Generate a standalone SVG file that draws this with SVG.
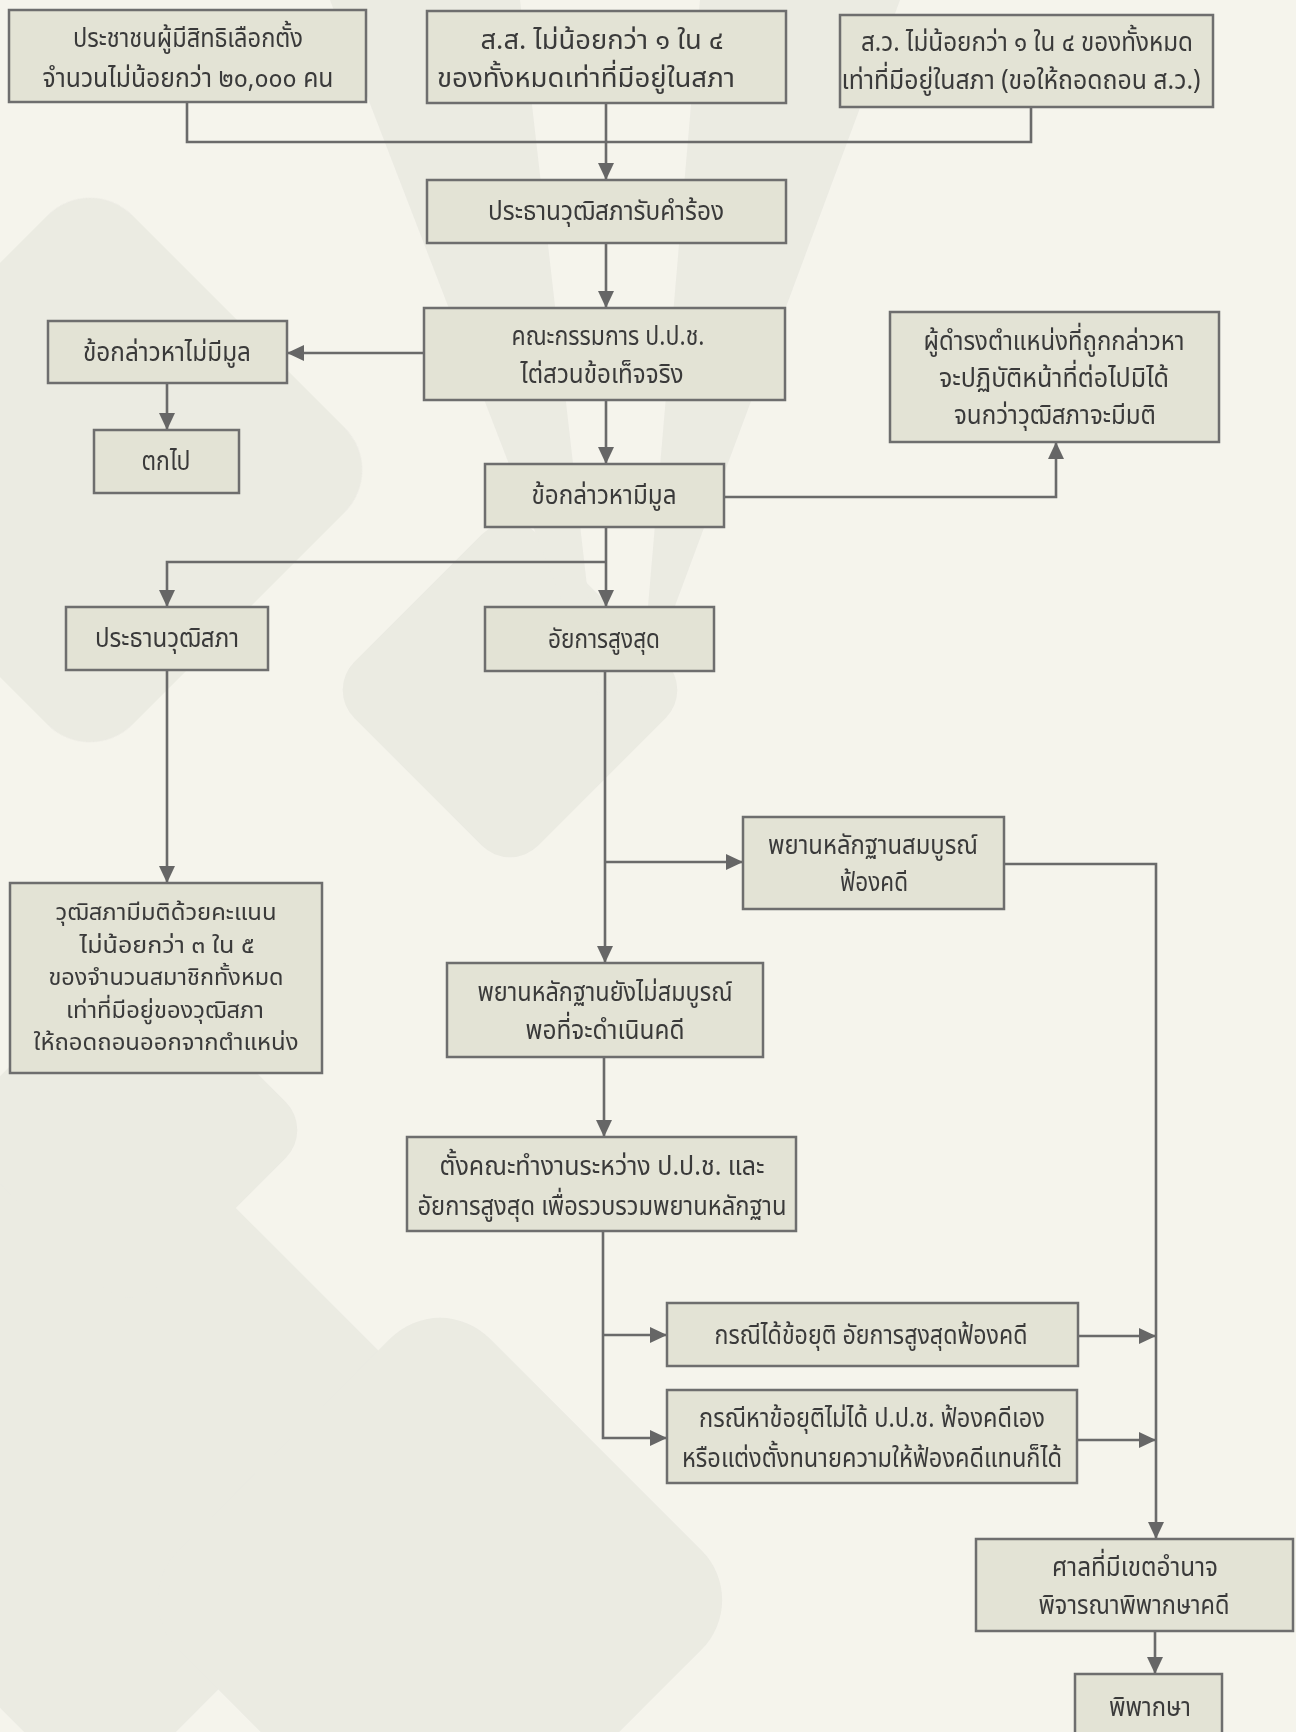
<svg xmlns="http://www.w3.org/2000/svg" width="1296" height="1732" viewBox="0 0 1296 1732">
<defs>
<style>
.bg{fill:#f5f4ec}
.deco{fill:#d9d9d2}
.box{fill:#e3e3d5;stroke:#6e6e6e;stroke-width:2.5}
.t{font-family:"Noto Sans Thai","Noto Sans","DejaVu Sans",sans-serif;font-size:27px;fill:#3a3a3a;text-anchor:middle;dominant-baseline:central}
.s{font-size:23px}
.c{fill:none;stroke:#6a6a6a;stroke-width:2.6}
</style>
<marker id="ah" markerUnits="userSpaceOnUse" markerWidth="18" markerHeight="18" refX="17" refY="8" orient="auto" viewBox="0 0 18 16">
<path d="M0,0 L17,8 L0,16 z" fill="#666"/>
</marker>
</defs>
<rect class="bg" x="0" y="0" width="1296" height="1732"/>
<g id="background" opacity="0.35">
<rect class="deco" x="-120" y="260" width="420" height="420" rx="60" transform="rotate(45 90 470)"/>
<rect class="deco" x="380" y="560" width="260" height="260" rx="40" transform="rotate(45 510 690)"/>
<rect class="deco" x="-160" y="1180" width="520" height="520" rx="70" transform="rotate(45 100 1440)"/>
<rect class="deco" x="220" y="1380" width="440" height="440" rx="70" transform="rotate(45 440 1600)"/>
<rect class="deco" x="0" y="1000" width="260" height="260" rx="40" transform="rotate(45 130 1130)"/>
<path class="deco" d="M330,0 L520,0 L600,700 Z"/>
<path class="deco" d="M700,0 L900,0 L640,700 Z"/>
</g>
<g id="connectors">
<polyline class="c" points="187,102 187,142 1031,142 1031,107"/>
<line class="c" x1="606" y1="103" x2="606" y2="180" marker-end="url(#ah)"/>
<line class="c" x1="606" y1="243" x2="606" y2="308" marker-end="url(#ah)"/>
<line class="c" x1="424" y1="353" x2="287" y2="353" marker-end="url(#ah)"/>
<line class="c" x1="167" y1="383" x2="167" y2="430" marker-end="url(#ah)"/>
<line class="c" x1="606" y1="400" x2="606" y2="464" marker-end="url(#ah)"/>
<polyline class="c" points="724,497 1056,497 1056,442" marker-end="url(#ah)"/>
<line class="c" x1="606" y1="527" x2="606" y2="607" marker-end="url(#ah)"/>
<polyline class="c" points="606,562 167,562 167,607" marker-end="url(#ah)"/>
<line class="c" x1="167" y1="670" x2="167" y2="883" marker-end="url(#ah)"/>
<line class="c" x1="605" y1="671" x2="605" y2="963" marker-end="url(#ah)"/>
<line class="c" x1="605" y1="862" x2="743" y2="862" marker-end="url(#ah)"/>
<polyline class="c" points="1004,864 1156,864 1156,1539" marker-end="url(#ah)"/>
<line class="c" x1="604" y1="1057" x2="604" y2="1137" marker-end="url(#ah)"/>
<polyline class="c" points="603,1231 603,1438 667,1438" marker-end="url(#ah)"/>
<line class="c" x1="603" y1="1335" x2="667" y2="1335" marker-end="url(#ah)"/>
<line class="c" x1="1078" y1="1336" x2="1156" y2="1336" marker-end="url(#ah)"/>
<line class="c" x1="1077" y1="1440" x2="1156" y2="1440" marker-end="url(#ah)"/>
<line class="c" x1="1155" y1="1631" x2="1155" y2="1674" marker-end="url(#ah)"/>
</g>
<g id="n1"><rect class="box" x="9" y="10" width="357" height="92"/>
<text class="t" x="188" y="38" textLength="230" lengthAdjust="spacingAndGlyphs">ประชาชนผู้มีสิทธิเลือกตั้ง</text>
<text class="t" x="188" y="78" textLength="291" lengthAdjust="spacingAndGlyphs">จำนวนไม่น้อยกว่า ๒๐,๐๐๐ คน</text></g>
<g id="n2"><rect class="box" x="427" y="11" width="359" height="92"/>
<text class="t" x="602" y="40" textLength="243" lengthAdjust="spacingAndGlyphs">ส.ส. ไม่น้อยกว่า ๑ ใน ๔</text>
<text class="t" x="586" y="78" textLength="298" lengthAdjust="spacingAndGlyphs">ของทั้งหมดเท่าที่มีอยู่ในสภา</text></g>
<g id="n3"><rect class="box" x="840" y="15" width="373" height="92"/>
<text class="t" x="1027" y="42" textLength="332" lengthAdjust="spacingAndGlyphs">ส.ว. ไม่น้อยกว่า ๑ ใน ๔ ของทั้งหมด</text>
<text class="t" x="1021" y="80" textLength="359" lengthAdjust="spacingAndGlyphs">เท่าที่มีอยู่ในสภา (ขอให้ถอดถอน ส.ว.)</text></g>
<g id="n4"><rect class="box" x="427" y="180" width="359" height="63"/>
<text class="t" x="606" y="211" textLength="236" lengthAdjust="spacingAndGlyphs">ประธานวุฒิสภารับคำร้อง</text></g>
<g id="n5"><rect class="box" x="424" y="308" width="361" height="92"/>
<text class="t" x="608" y="336" textLength="193" lengthAdjust="spacingAndGlyphs">คณะกรรมการ ป.ป.ช.</text>
<text class="t" x="602" y="374" textLength="163" lengthAdjust="spacingAndGlyphs">ไต่สวนข้อเท็จจริง</text></g>
<g id="n6"><rect class="box" x="48" y="321" width="239" height="62"/>
<text class="t" x="167" y="352" textLength="168" lengthAdjust="spacingAndGlyphs">ข้อกล่าวหาไม่มีมูล</text></g>
<g id="n7"><rect class="box" x="94" y="430" width="145" height="63"/>
<text class="t" x="166" y="461" textLength="49" lengthAdjust="spacingAndGlyphs">ตกไป</text></g>
<g id="n8"><rect class="box" x="890" y="312" width="329" height="130"/>
<text class="t" x="1054" y="341" textLength="261" lengthAdjust="spacingAndGlyphs">ผู้ดำรงตำแหน่งที่ถูกกล่าวหา</text>
<text class="t" x="1054" y="378" textLength="230" lengthAdjust="spacingAndGlyphs">จะปฏิบัติหน้าที่ต่อไปมิได้</text>
<text class="t" x="1055" y="415" textLength="202" lengthAdjust="spacingAndGlyphs">จนกว่าวุฒิสภาจะมีมติ</text></g>
<g id="n9"><rect class="box" x="485" y="464" width="239" height="63"/>
<text class="t" x="604" y="495" textLength="145" lengthAdjust="spacingAndGlyphs">ข้อกล่าวหามีมูล</text></g>
<g id="n10"><rect class="box" x="66" y="607" width="202" height="63"/>
<text class="t" x="167" y="638" textLength="144" lengthAdjust="spacingAndGlyphs">ประธานวุฒิสภา</text></g>
<g id="n11"><rect class="box" x="485" y="607" width="229" height="64"/>
<text class="t" x="604" y="639" textLength="112" lengthAdjust="spacingAndGlyphs">อัยการสูงสุด</text></g>
<g id="n12"><rect class="box" x="10" y="883" width="312" height="190"/>
<text class="t s" x="166" y="913" textLength="221" lengthAdjust="spacingAndGlyphs">วุฒิสภามีมติด้วยคะแนน</text>
<text class="t s" x="167" y="946" textLength="175" lengthAdjust="spacingAndGlyphs">ไม่น้อยกว่า ๓ ใน ๕</text>
<text class="t s" x="166" y="978" textLength="235" lengthAdjust="spacingAndGlyphs">ของจำนวนสมาชิกทั้งหมด</text>
<text class="t s" x="165" y="1011" textLength="198" lengthAdjust="spacingAndGlyphs">เท่าที่มีอยู่ของวุฒิสภา</text>
<text class="t s" x="166" y="1043" textLength="265" lengthAdjust="spacingAndGlyphs">ให้ถอดถอนออกจากตำแหน่ง</text></g>
<g id="n13"><rect class="box" x="743" y="817" width="261" height="92"/>
<text class="t" x="873" y="845" textLength="210" lengthAdjust="spacingAndGlyphs">พยานหลักฐานสมบูรณ์</text>
<text class="t" x="874" y="882" textLength="68" lengthAdjust="spacingAndGlyphs">ฟ้องคดี</text></g>
<g id="n14"><rect class="box" x="447" y="963" width="316" height="94"/>
<text class="t" x="605" y="992" textLength="255" lengthAdjust="spacingAndGlyphs">พยานหลักฐานยังไม่สมบูรณ์</text>
<text class="t" x="605" y="1030" textLength="159" lengthAdjust="spacingAndGlyphs">พอที่จะดำเนินคดี</text></g>
<g id="n15"><rect class="box" x="407" y="1137" width="389" height="94"/>
<text class="t" x="602" y="1166" textLength="325" lengthAdjust="spacingAndGlyphs">ตั้งคณะทำงานระหว่าง ป.ป.ช. และ</text>
<text class="t" x="602" y="1206" textLength="369" lengthAdjust="spacingAndGlyphs">อัยการสูงสุด เพื่อรวบรวมพยานหลักฐาน</text></g>
<g id="n16"><rect class="box" x="667" y="1303" width="411" height="63"/>
<text class="t" x="871" y="1335" textLength="313" lengthAdjust="spacingAndGlyphs">กรณีได้ข้อยุติ อัยการสูงสุดฟ้องคดี</text></g>
<g id="n17"><rect class="box" x="667" y="1390" width="410" height="93"/>
<text class="t" x="872" y="1418" textLength="346" lengthAdjust="spacingAndGlyphs">กรณีหาข้อยุติไม่ได้ ป.ป.ช. ฟ้องคดีเอง</text>
<text class="t" x="872" y="1458" textLength="380" lengthAdjust="spacingAndGlyphs">หรือแต่งตั้งทนายความให้ฟ้องคดีแทนก็ได้</text></g>
<g id="n18"><rect class="box" x="976" y="1539" width="317" height="92"/>
<text class="t" x="1135" y="1567" textLength="166" lengthAdjust="spacingAndGlyphs">ศาลที่มีเขตอำนาจ</text>
<text class="t" x="1134" y="1605" textLength="191" lengthAdjust="spacingAndGlyphs">พิจารณาพิพากษาคดี</text></g>
<g id="n19"><rect class="box" x="1075" y="1674" width="147" height="64"/>
<text class="t" x="1150" y="1707" textLength="82" lengthAdjust="spacingAndGlyphs">พิพากษา</text></g>
</svg>
